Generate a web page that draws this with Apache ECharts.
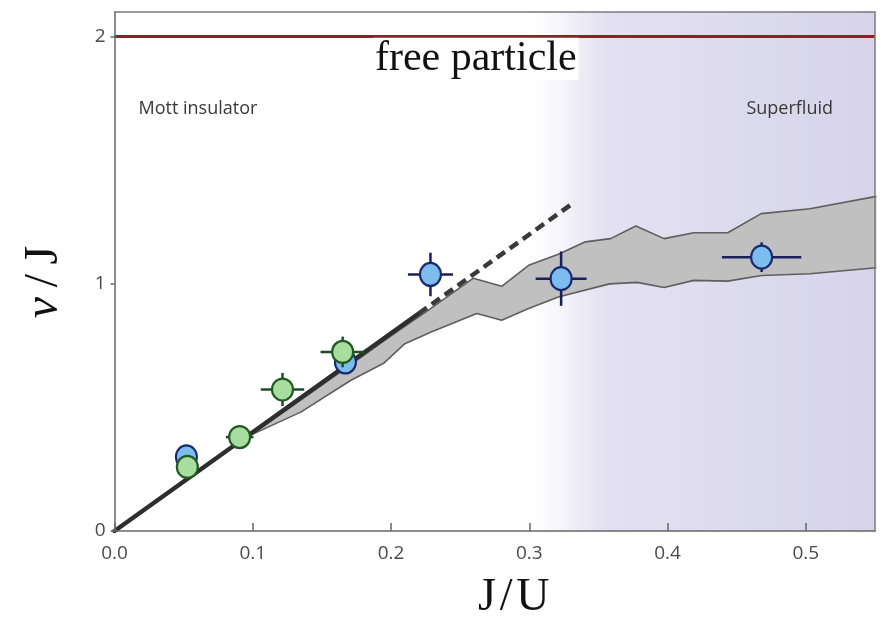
<!DOCTYPE html>
<html>
<head>
<meta charset="utf-8">
<script src="https://cdn.jsdelivr.net/npm/echarts@6/dist/echarts.min.js"></script>
<style>html,body{margin:0;padding:0;background:#fff;}#chart{width:880px;height:619px;}</style>
</head>
<body>
<div id="chart"></div>
<script>
// ---- data ----
const xTicks = [0.0, 0.1, 0.2, 0.3, 0.4, 0.5];
const yTicks = [0, 1, 2];

const blueJ = [0.052, 0.167, 0.2285, 0.323, 0.468];
const blueV = [0.30, 0.684, 1.038, 1.021, 1.108];
const blueErrJ = [0, 0, 0.0163, 0.0184, 0.0287];
const blueErrV = [0, 0, 0.088, 0.11, 0.06];

const greenJ = [0.0527, 0.0905, 0.1215, 0.165];
const greenV = [0.259, 0.38, 0.5725, 0.7245];
const greenErrJ = [0, 0.01, 0.0157, 0.016];
const greenErrV = [0, 0, 0.067, 0.062];

const bandUpperJ = [0.0985, 0.15, 0.2, 0.226, 0.2595, 0.280, 0.2995, 0.321, 0.3406, 0.3588, 0.377, 0.3975, 0.419, 0.4435, 0.4677, 0.503, 0.551];
const bandUpperV = [0.388, 0.59, 0.79, 0.89, 1.023, 0.99, 1.075, 1.12, 1.17, 1.183, 1.234, 1.183, 1.207, 1.207, 1.284, 1.304, 1.354];
const bandLowerJ = [0.0985, 0.135, 0.171, 0.195, 0.21, 0.229, 0.262, 0.280, 0.2995, 0.321, 0.358, 0.378, 0.3975, 0.419, 0.4435, 0.468, 0.503, 0.551];
const bandLowerV = [0.388, 0.482, 0.61, 0.68, 0.758, 0.805, 0.88, 0.853, 0.9, 0.947, 1.0, 1.006, 0.985, 1.014, 1.011, 1.034, 1.041, 1.065];

const solidLineJ = [0, 0.22];
const solidLineV = [0, 0.88];
const dashLineJ = [0.22, 0.333];
const dashLineV = [0.88, 1.332];

const freeParticleV = 2;
const superfluidStart = 0.3;
const xMax = 0.55;
const yMax = 2.1;

// ---- helpers ----
const zip = (a, b) => a.map((v, i) => [v, b[i]]);
const errRows = (j, v, ej, ev) => j.map((x, i) => [x, v[i], ej[i], ev[i]]);

function errRender(color) {
  return function (params, api) {
    const x = api.value(0), y = api.value(1), ej = api.value(2), ev = api.value(3);
    const children = [];
    const st = { stroke: color, lineWidth: 2.5 };
    if (ej > 0) {
      const l = api.coord([x - ej, y]), r = api.coord([x + ej, y]);
      children.push({ type: 'line', shape: { x1: l[0], y1: l[1], x2: r[0], y2: r[1] }, style: st });
    }
    if (ev > 0) {
      const t = api.coord([x, y + ev]), b = api.coord([x, y - ev]);
      children.push({ type: 'line', shape: { x1: t[0], y1: t[1], x2: b[0], y2: b[1] }, style: st });
    }
    return { type: 'group', children };
  };
}

const chart = echarts.init(document.getElementById('chart'), null, { renderer: 'canvas' });
const tickFont = { fontFamily: 'Open Sans', fontSize: 19, color: '#4a4a4a' };
const serif = 'Liberation Serif';
const frameLine = { show: true, onZero: false, lineStyle: { color: '#7a7a7a', width: 1.5 } };

chart.setOption({
  animation: false,
  backgroundColor: '#fff',
  grid: { left: 114.5, right: 5, top: 12, bottom: 88, containLabel: false, outerBoundsMode: 'none', show: false },
  xAxis: [{
    type: 'value', min: 0, max: xMax, interval: 0.1, z: 10,
    axisLine: { show: true, onZero: false, lineStyle: { color: '#666', width: 1.5 } },
    axisTick: { show: true, inside: true, length: 8, lineStyle: { color: '#666', width: 1.5 } },
    axisLabel: Object.assign({ margin: 13, showMaxLabel: false, formatter: v => xTicks.includes(Math.round(v * 10) / 10) ? v.toFixed(1) : '' }, tickFont),
    splitLine: { show: false },
    name: 'J\u200A/\u200AU', nameLocation: 'middle', nameGap: 44,
    nameTextStyle: { fontFamily: serif, fontSize: 46, color: '#111', padding: [0, 0, 0, 38] }
  }, {
    type: 'value', min: 0, max: xMax, position: 'top', z: 10,
    axisLine: frameLine, axisTick: { show: false }, axisLabel: { show: false }, splitLine: { show: false }
  }],
  yAxis: [{
    type: 'value', min: 0, max: yMax, interval: 1, z: 10,
    axisLine: { show: true, onZero: false, lineStyle: { color: '#666', width: 1.5 } },
    axisTick: { show: true, inside: false, length: 4, lineStyle: { color: '#666', width: 1.5 } },
    axisLabel: Object.assign({ margin: 9, showMaxLabel: false, formatter: v => yTicks.includes(v) ? String(v) : '' }, tickFont),
    splitLine: { show: false },
    name: '{i|v}\u2009/\u2009J', nameLocation: 'middle', nameGap: 46, nameRotate: 90,
    nameTextStyle: {
      fontFamily: serif, fontSize: 48, color: '#111', padding: [0, 21, 0, 0],
      rich: { i: { fontFamily: serif, fontStyle: 'italic', fontSize: 48, color: '#111' } }
    }
  }, {
    type: 'value', min: 0, max: yMax, position: 'right', z: 10,
    axisLine: frameLine, axisTick: { show: false }, axisLabel: { show: false }, splitLine: { show: false }
  }],
  series: [
    {
      type: 'line', name: 'regions', data: [], silent: true, z: 0,
      markArea: {
        silent: true, z: 0,
        data: [
          [{ xAxis: 0, yAxis: 0, itemStyle: { color: 'rgba(0,0,0,0)' },
             label: { show: true, formatter: 'Mott insulator', position: [24, 88], fontFamily: 'Open Sans', fontSize: 18, color: '#383838' } },
           { xAxis: superfluidStart, yAxis: yMax }],
          [{ xAxis: superfluidStart, yAxis: 0,
             itemStyle: { color: { type: 'linear', x: 0, y: 0, x2: 1, y2: 0, colorStops: [
               { offset: 0, color: '#ffffff' }, { offset: 0.05, color: '#fbfbfd' }, { offset: 0.22, color: '#e3e1f1' }, { offset: 1, color: '#d7d4ea' }] } },
             label: { show: true, formatter: 'Superfluid', position: 'insideTopRight', distance: 0, offset: [-42, 88], fontFamily: 'Open Sans', fontSize: 18, color: '#383838' } },
           { xAxis: xMax, yAxis: yMax }]
        ]
      }
    },
    {
      type: 'custom', name: 'band', z: 2, silent: true,
      data: [[0.3, 1]], encode: { x: 0, y: 1 },
      renderItem: function (params, api) {
        const pts = [];
        for (let i = 0; i < bandUpperJ.length; i++) pts.push(api.coord([bandUpperJ[i], bandUpperV[i]]));
        for (let i = bandLowerJ.length - 1; i >= 0; i--) pts.push(api.coord([bandLowerJ[i], bandLowerV[i]]));
        return { type: 'polygon', shape: { points: pts }, style: { fill: '#c0c0c0', stroke: 'none' } };
      }
    },
    { type: 'line', name: 'upper', z: 3, data: zip(bandUpperJ, bandUpperV), symbol: 'none', lineStyle: { color: '#5e5e5e', width: 1.6 } },
    { type: 'line', name: 'lower', z: 3, data: zip(bandLowerJ, bandLowerV), symbol: 'none', lineStyle: { color: '#5e5e5e', width: 1.6 } },
    { type: 'line', name: 'theory', z: 4, data: zip(solidLineJ, solidLineV), symbol: 'none', lineStyle: { color: '#2e2e2e', width: 4.5, cap: 'round' } },
    { type: 'line', name: 'theoryDash', z: 4, data: zip(dashLineJ, dashLineV), symbol: 'none', lineStyle: { color: '#3a3a3a', width: 4.5, type: [10, 6] } },
    {
      type: 'line', name: 'free', z: 4, data: [],
      markLine: {
        silent: true, symbol: 'none',
        lineStyle: { color: '#931d24', width: 3, type: 'solid' },
        label: { show: true, formatter: 'free particle', position: 'insideMiddleBottom', distance: 1, offset: [-19, 0],
          fontFamily: serif, fontSize: 42, color: '#111', backgroundColor: '#fff', padding: [0, 2, 0, 2] },
        data: [{ yAxis: freeParticleV }]
      }
    },
    { type: 'custom', name: 'blueErr', z: 5, renderItem: errRender('#1a1f5c'), data: errRows(blueJ, blueV, blueErrJ, blueErrV), encode: { x: 0, y: 1 } },
    { type: 'scatter', name: 'blue', z: 6, data: zip(blueJ, blueV), symbol: 'circle', symbolSize: [21, 23],
      itemStyle: { color: '#7cbcee', borderColor: '#1a2a6a', borderWidth: 2.2, opacity: 1 } },
    { type: 'custom', name: 'greenErr', z: 7, renderItem: errRender('#1f4d20'), data: errRows(greenJ, greenV, greenErrJ, greenErrV), encode: { x: 0, y: 1 } },
    { type: 'scatter', name: 'green', z: 8, data: zip(greenJ, greenV), symbol: 'circle', symbolSize: [21, 22],
      itemStyle: { color: '#a9dc9f', borderColor: '#1f5a22', borderWidth: 2.2, opacity: 1 } }
  ]
});
</script>
</body>
</html>
